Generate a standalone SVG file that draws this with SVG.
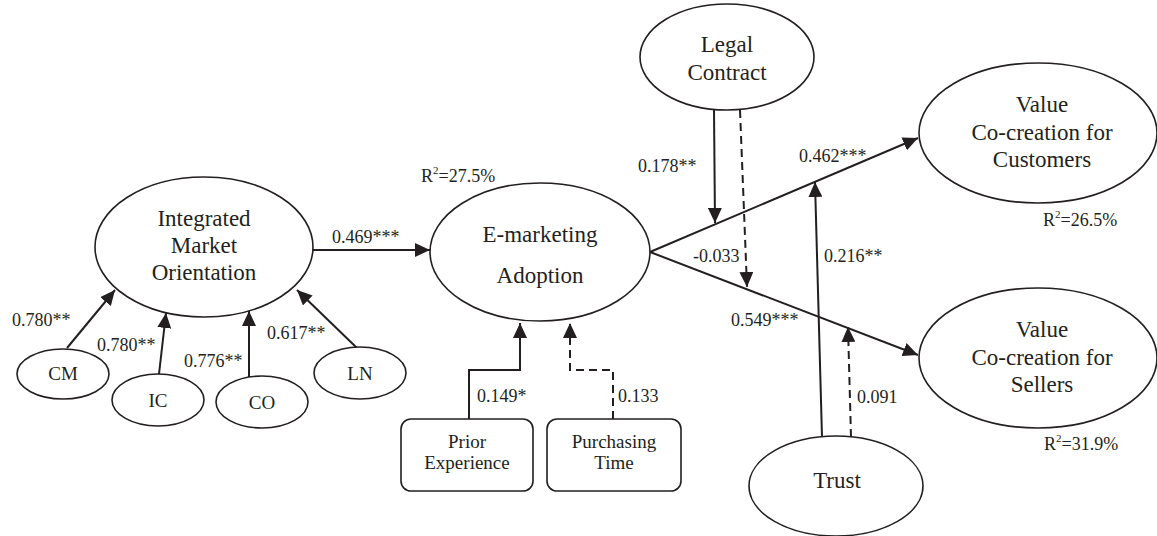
<svg xmlns="http://www.w3.org/2000/svg" width="1157" height="536" viewBox="0 0 1157 536">
<style>
.node{fill:#fff;stroke:#231f20;stroke-width:1.6}
text{fill:#231f20}
.nt{font-size:23px;text-anchor:middle}
.st{font-size:19px;text-anchor:middle}
.lb{font-size:18px}
.c{fill:none;stroke:#231f20;stroke-width:2;marker-end:url(#ah)}
.d{stroke-dasharray:8 5}
</style>
<defs>
<marker id="ah" markerUnits="userSpaceOnUse" markerWidth="16" markerHeight="14" refX="15" refY="7" orient="auto">
<path d="M0,0 L15,7 L0,14 z" fill="#231f20"/>
</marker>
</defs>
<g id="connectors">
<path class="c" d="M313,250 L430,250"/>
<path class="c" d="M67,348 L115,290"/>
<path class="c" d="M159,374 L166,313"/>
<path class="c" d="M249,377 L249,311"/>
<path class="c" d="M357,348 L297,290"/>
<path class="c" d="M469,419 L469,370 L520,370 L520,323"/>
<path class="c d" d="M613,419 L613,370 L570,370 L570,323"/>
<path class="c" d="M650,252 L918,138"/>
<path class="c" d="M650,252 L918,355"/>
<path class="c" d="M714,110 L715,223"/>
<path class="c d" d="M740,110 L747,287"/>
<path class="c" d="M822,437 L815,182"/>
<path class="c d" d="M851,437 L848,327"/>
</g>
<g font-family="Liberation Serif, Tinos, Times New Roman, Times, serif">
<g id="IMO">
<ellipse class="node" cx="204" cy="247" rx="109" ry="70"/>
<text class="nt" x="204" y="226">Integrated</text>
<text class="nt" x="204" y="253">Market</text>
<text class="nt" x="204" y="280">Orientation</text>
</g>
<g id="EMA">
<ellipse class="node" cx="540" cy="252" rx="110" ry="69"/>
<text class="nt" x="540" y="242">E-marketing</text>
<text class="nt" x="540" y="283">Adoption</text>
</g>
<g id="LC">
<ellipse class="node" cx="727" cy="57" rx="87" ry="53"/>
<text class="nt" x="727" y="52">Legal</text>
<text class="nt" x="727" y="80">Contract</text>
</g>
<g id="VCC">
<ellipse class="node" cx="1038" cy="133" rx="119" ry="70"/>
<text class="nt" x="1042" y="112">Value</text>
<text class="nt" x="1042" y="140">Co-creation for</text>
<text class="nt" x="1042" y="167">Customers</text>
</g>
<g id="VCS">
<ellipse class="node" cx="1038" cy="358" rx="119" ry="70"/>
<text class="nt" x="1042" y="337">Value</text>
<text class="nt" x="1042" y="365">Co-creation for</text>
<text class="nt" x="1042" y="392">Sellers</text>
</g>
<g id="Trust">
<ellipse class="node" cx="836" cy="486" rx="87" ry="50"/>
<text class="nt" x="837" y="488">Trust</text>
</g>
<g id="CM">
<ellipse class="node" cx="63" cy="374" rx="46" ry="25"/>
<text class="st" x="63" y="380">CM</text>
</g>
<g id="IC">
<ellipse class="node" cx="158" cy="400" rx="46" ry="26"/>
<text class="st" x="158" y="407">IC</text>
</g>
<g id="CO">
<ellipse class="node" cx="262" cy="402" rx="46" ry="26"/>
<text class="st" x="262" y="409">CO</text>
</g>
<g id="LN">
<ellipse class="node" cx="360" cy="373" rx="46" ry="26"/>
<text class="st" x="360" y="380">LN</text>
</g>
<g id="PE">
<rect class="node" x="401" y="419" width="132" height="72" rx="10"/>
<text class="st" x="467" y="448">Prior</text>
<text class="st" x="467" y="469">Experience</text>
</g>
<g id="PT">
<rect class="node" x="547" y="419" width="134" height="72" rx="10"/>
<text class="st" x="614" y="448">Purchasing</text>
<text class="st" x="614" y="469">Time</text>
</g>
<g id="labels">
<text class="lb" x="332" y="243">0.469***</text>
<text class="lb" x="12" y="326">0.780**</text>
<text class="lb" x="97" y="351">0.780**</text>
<text class="lb" x="184" y="367">0.776**</text>
<text class="lb" x="267" y="339">0.617**</text>
<text class="lb" x="477" y="402">0.149*</text>
<text class="lb" x="618" y="402">0.133</text>
<text class="lb" x="638" y="172">0.178**</text>
<text class="lb" x="799" y="162">0.462***</text>
<text class="lb" x="693" y="262">-0.033</text>
<text class="lb" x="824" y="262">0.216**</text>
<text class="lb" x="731" y="326">0.549***</text>
<text class="lb" x="857" y="403">0.091</text>
<text class="lb" x="421" y="182">R<tspan font-size="11" dy="-8">2</tspan><tspan dy="8">=27.5%</tspan></text>
<text class="lb" x="1043" y="226">R<tspan font-size="11" dy="-8">2</tspan><tspan dy="8">=26.5%</tspan></text>
<text class="lb" x="1044" y="450">R<tspan font-size="11" dy="-8">2</tspan><tspan dy="8">=31.9%</tspan></text>
</g>
</g>
</svg>
